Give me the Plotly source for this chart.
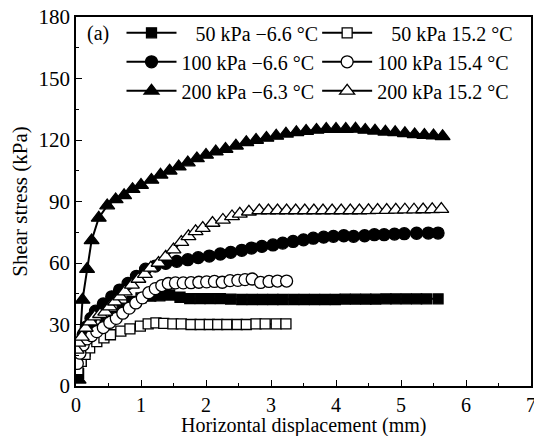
import plotly.graph_objects as go

# ---- data ----
x_50_cold = [0.04,0.08,0.14,0.23,0.34,0.45,0.58,0.71,0.86,1.0,1.15,1.29,1.44,1.6,1.75,1.91,2.06,2.22,2.38,2.55,2.71,2.87,3.03,3.18,3.35,3.51,3.67,3.83,3.99,4.14,4.3,4.46,4.61,4.77,4.92,5.08,5.24,5.39,5.57]
y_50_cold = [6,12,17,22,27,31,34,38,41.3,43,43.8,44,44.4,43.3,42.6,42.6,42.6,42.6,42.4,42.2,42.2,42.2,42.2,42.2,42.2,42.2,42.2,42.2,42.2,42.4,42.4,42.4,42.4,42.5,42.5,42.5,42.5,42.5,42.5]

x_100_cold = [0.02,0.06,0.11,0.17,0.23,0.3,0.42,0.55,0.67,0.8,0.93,1.07,1.22,1.38,1.55,1.72,1.88,2.05,2.22,2.38,2.55,2.7,2.86,3.03,3.18,3.34,3.5,3.65,3.81,3.96,4.12,4.27,4.44,4.59,4.74,4.9,5.05,5.24,5.42,5.57]
y_100_cold = [16,21,25,29,33,36.5,40,43.5,46.8,50,53.5,57,58.5,59.8,60.8,61.6,62.6,63.4,64.4,65.2,66.2,67.3,68.1,68.8,69.7,70.5,71.3,72.1,72.6,73,73.3,73,73.3,73.8,73.8,74.1,74.3,74.5,74.6,74.6]

x_200_cold = [0.04,0.06,0.1,0.17,0.24,0.35,0.48,0.61,0.74,0.87,1.0,1.16,1.3,1.44,1.58,1.72,1.86,2.0,2.15,2.3,2.46,2.62,2.77,2.93,3.08,3.23,3.39,3.54,3.7,3.85,4.0,4.15,4.3,4.45,4.6,4.76,4.91,5.06,5.21,5.36,5.5,5.64]
y_200_cold = [3,22,42,57,71,82,88,91,93,96,98,100.5,103,105,107,109,111,112.7,114.3,115.6,117.2,118.9,120,121,122,123,123.7,124.4,124.9,125.3,125.3,125.3,125.4,124.9,124.5,124,123.7,123.2,122.7,122.4,122.1,121.8]

x_50_warm = [0.03,0.08,0.14,0.21,0.32,0.43,0.53,0.69,0.83,0.99,1.11,1.23,1.35,1.49,1.62,1.77,1.91,2.05,2.18,2.32,2.48,2.62,2.77,2.91,3.08,3.23]
y_50_warm = [8,12,15.4,18.6,21.6,23.5,25,26.8,27.9,29.2,30.3,30.8,30.5,30.3,30.3,30,30,30,30,30,30,30,30.3,30.3,30.3,30.3]

x_100_warm = [0.02,0.06,0.11,0.17,0.24,0.32,0.42,0.52,0.62,0.72,0.82,0.92,1.02,1.12,1.22,1.32,1.42,1.53,1.65,1.77,1.89,2.01,2.13,2.25,2.37,2.49,2.6,2.71,2.84,2.97,3.1,3.24]
y_100_warm = [11,16,20,23,24.5,26.5,28.5,31,33,35.5,38,40.5,43,45.5,47.5,49,50,50.3,50.3,50.4,50.6,50.8,51,50.6,51.4,51.5,51.9,52.2,50.5,51,51.2,51.2]

x_200_warm = [0.01,0.035,0.09,0.15,0.22,0.29,0.37,0.45,0.52,0.6,0.68,0.75,0.86,0.96,1.06,1.15,1.27,1.38,1.5,1.62,1.73,1.84,1.95,2.1,2.26,2.4,2.52,2.66,2.82,2.96,3.1,3.24,3.38,3.52,3.66,3.8,3.94,4.08,4.22,4.36,4.5,4.64,4.78,4.92,5.06,5.2,5.34,5.48,5.62]
y_200_warm = [17.6,21,24,28.3,31.4,33.8,35,36.2,38.7,41.1,43.6,46,49.3,52.2,54.6,57.6,60,63,66.5,70.2,73,75.4,77,79.5,81,82.7,84,85,85.6,85.6,85.6,85.6,85.6,85.6,85.6,85.6,85.6,85.6,85.6,85.6,85.7,85.8,85.8,85.9,86,86,86.1,86.2,86.3]

names = ["\u2007\u200950 kPa \u22126.6 \u00b0C", "100 kPa \u22126.6 \u00b0C", "200 kPa \u22126.3 \u00b0C",
         "\u2007\u200950 kPa 15.2 \u00b0C", "100 kPa 15.4 \u00b0C", "200 kPa 15.2 \u00b0C"]

x_ticks = [0, 1, 2, 3, 4, 5, 6, 7]
y_ticks = [0, 30, 60, 90, 120, 150, 180]

FONT = "Liberation Serif"

series = [
    (x_50_cold, y_50_cold, "square", 10, "black", names[0], "legend"),
    (x_100_cold, y_100_cold, "circle", 12, "black", names[1], "legend"),
    (x_200_cold, y_200_cold, "triangle-up", 13, "black", names[2], "legend"),
    (x_50_warm, y_50_warm, "square", 10, "white", names[3], "legend2"),
    (x_100_warm, y_100_warm, "circle", 12, "white", names[4], "legend2"),
    (x_200_warm, y_200_warm, "triangle-up", 13, "white", names[5], "legend2"),
]

fig = go.Figure()
for i, (xs, ys, sym, sz, fill, nm, lg) in enumerate(series):
    fig.add_trace(go.Scatter(
        x=xs, y=ys, mode="lines+markers", name=nm, legend=lg,
        legendgroup=f"g{i}",
        line=dict(color="black", width=2),
        marker=dict(symbol=sym, size=sz, color=fill,
                    line=dict(color="black", width=1.3)),
    ))

legend_common = dict(
    font=dict(family=FONT, size=20, color="black"),
    bgcolor="rgba(0,0,0,0)", borderwidth=0,
    itemwidth=50, tracegroupgap=0,
    xanchor="left", yanchor="top",
)
fig.update_layout(
    width=534, height=436,
    margin=dict(l=76, r=3, t=17, b=50),
    paper_bgcolor="white", plot_bgcolor="white",
    font=dict(family=FONT, size=20, color="black"),
    showlegend=True,
    legend=dict(x=0.1, y=1.01, **legend_common),
    legend2=dict(x=0.53, y=1.01, **legend_common),
    xaxis=dict(
        range=[0, 7], tickvals=x_ticks, ticktext=[str(v) for v in x_ticks],
        showgrid=False, zeroline=False, ticklabeloverflow="allow", automargin=False,
        showline=True, linecolor="black", linewidth=1.5, mirror=True,
        ticks="inside", ticklen=6, tickwidth=1.2, tickcolor="black",
        minor=dict(ticks="inside", dtick=0.5, ticklen=3, tickwidth=1.2, tickcolor="black"),
        tickfont=dict(family=FONT, size=20),
    ),
    yaxis=dict(
        range=[0, 180], tickvals=y_ticks, ticktext=[str(v) for v in y_ticks],
        showgrid=False, zeroline=False, automargin=False,
        showline=True, linecolor="black", linewidth=1.5, mirror=True,
        ticks="inside", ticklen=6, tickwidth=1.2, tickcolor="black",
        minor=dict(ticks="inside", dtick=15, ticklen=3, tickwidth=1.2, tickcolor="black"),
        tickfont=dict(family=FONT, size=21),
        title=dict(text="Shear stress (kPa)", font=dict(family=FONT, size=21), standoff=5),
    ),
    annotations=[
        dict(text="(a)", x=0.02, y=0.955, xref="paper", yref="paper",
             xanchor="left", yanchor="middle", showarrow=False,
             font=dict(family=FONT, size=20, color="black")),
        dict(text="Horizontal displacement (mm)", x=0.5, y=-0.108, xref="paper", yref="paper",
             xanchor="center", yanchor="middle", showarrow=False,
             font=dict(family=FONT, size=20, color="black")),
    ],
)

fig.write_html("out.html")
